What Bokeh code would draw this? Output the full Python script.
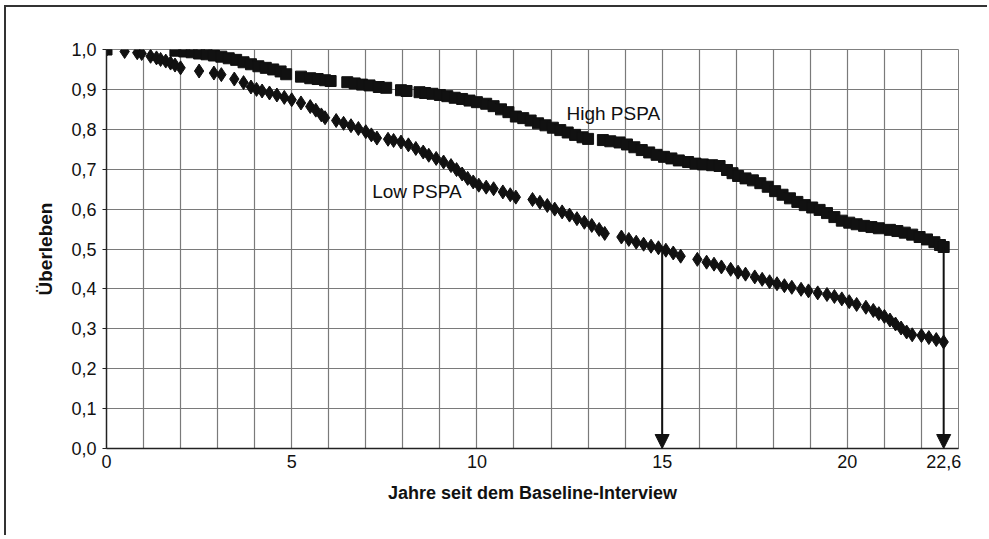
from bokeh.plotting import figure
from bokeh.models import (Range1d, FixedTicker, Label, Arrow, NormalHead, ColumnDataSource)
from bokeh.embed import file_html
from bokeh.resources import INLINE

# ---- data ----
high_years = [0, 1.86, 2.1, 2.3, 2.5, 2.7, 2.9, 3.1, 3.3, 3.5, 3.7, 3.9, 4.1, 4.3, 4.5, 4.7,
              4.85, 5.25, 5.5, 5.7, 5.9, 6.05, 6.5, 6.7, 6.9, 7.1, 7.35, 7.55, 7.95, 8.1,
              8.45, 8.6, 8.8, 9.0, 9.2, 9.4, 9.6, 9.8, 10.0, 10.25, 10.45, 10.65, 10.85,
              11.05, 11.25, 11.45, 11.65, 11.85, 12.05, 12.25, 12.45, 12.65, 12.85, 13.0,
              13.4, 13.6, 13.85, 14.05, 14.25, 14.45, 14.65, 14.85, 15.05, 15.25, 15.45,
              15.7, 15.9, 16.1, 16.35, 16.55, 16.75, 16.9, 17.05, 17.25, 17.45, 17.65,
              17.85, 18.05, 18.25, 18.45, 18.65, 18.85, 19.05, 19.25, 19.45, 19.65, 19.85,
              20.05, 20.25, 20.45, 20.65, 20.85, 21.15, 21.35, 21.55, 21.75, 21.95, 22.15,
              22.35, 22.5, 22.6]
high_surv = [1.0, 0.997, 0.995, 0.993, 0.99, 0.988, 0.985, 0.982, 0.978, 0.974, 0.968, 0.963,
             0.958, 0.954, 0.95, 0.945, 0.938, 0.932, 0.928, 0.926, 0.923, 0.921, 0.918, 0.915,
             0.912, 0.91, 0.906, 0.904, 0.898, 0.896, 0.893, 0.891, 0.889, 0.886, 0.883, 0.879,
             0.876, 0.872, 0.868, 0.864, 0.858, 0.85, 0.843, 0.832, 0.828, 0.822, 0.815, 0.81,
             0.804, 0.798, 0.792, 0.786, 0.78, 0.776, 0.773, 0.77, 0.767, 0.762, 0.755, 0.748,
             0.742, 0.736, 0.731, 0.727, 0.722, 0.718, 0.714, 0.712, 0.71, 0.708, 0.698, 0.69,
             0.683, 0.677, 0.672, 0.665, 0.656, 0.645, 0.636, 0.627, 0.618, 0.61, 0.604, 0.598,
             0.59, 0.58, 0.571, 0.566, 0.562, 0.558, 0.555, 0.552, 0.548, 0.545, 0.541, 0.536,
             0.53, 0.524, 0.517, 0.51, 0.505]

low_years = [0, 0.49, 0.83, 0.95, 1.19, 1.35, 1.46, 1.6, 1.73, 1.85, 2.0, 2.5, 2.9, 3.1, 3.45,
             3.7, 3.9, 4.05, 4.2, 4.4, 4.6, 4.8, 5.0, 5.25, 5.5, 5.65, 5.8, 5.9, 6.2, 6.4, 6.6,
             6.8, 7.0, 7.15, 7.3, 7.6, 7.75, 7.95, 8.15, 8.35, 8.55, 8.7, 8.9, 9.1, 9.3, 9.45,
             9.6, 9.75, 9.9, 10.05, 10.25, 10.45, 10.7, 10.9, 11.05, 11.5, 11.7, 11.9, 12.1,
             12.3, 12.5, 12.7, 12.9, 13.1, 13.3, 13.45, 13.9, 14.1, 14.3, 14.5, 14.7, 14.9,
             15.1, 15.3, 15.5, 15.95, 16.2, 16.4, 16.6, 16.85, 17.05, 17.25, 17.5, 17.7, 17.9,
             18.1, 18.3, 18.5, 18.75, 18.95, 19.2, 19.45, 19.65, 19.85, 20.05, 20.25, 20.5,
             20.7, 20.85, 21.0, 21.15, 21.3, 21.45, 21.6, 21.75, 22.0, 22.2, 22.4, 22.6]
low_surv = [1.0, 0.995, 0.992, 0.99, 0.983, 0.979, 0.975, 0.971, 0.966, 0.961, 0.954, 0.946,
            0.941, 0.937, 0.926, 0.917, 0.906, 0.9, 0.896, 0.891, 0.886, 0.88, 0.874, 0.866,
            0.857, 0.848, 0.836, 0.829, 0.822, 0.815, 0.809, 0.802, 0.794, 0.786, 0.778, 0.775,
            0.772, 0.768, 0.761, 0.752, 0.743, 0.735, 0.727, 0.718, 0.709, 0.699, 0.688, 0.677,
            0.668, 0.66, 0.655, 0.651, 0.643, 0.636, 0.63, 0.624, 0.617, 0.609, 0.6, 0.593,
            0.585, 0.576, 0.567, 0.559, 0.549, 0.539, 0.53, 0.524, 0.517, 0.512, 0.507, 0.503,
            0.497, 0.49, 0.482, 0.474, 0.467, 0.462, 0.455, 0.449, 0.442, 0.437, 0.43, 0.424,
            0.418, 0.413, 0.408, 0.404, 0.399, 0.395, 0.39, 0.386, 0.381, 0.375, 0.368, 0.361,
            0.354, 0.346, 0.338, 0.331, 0.322, 0.312, 0.302, 0.292, 0.285, 0.283, 0.278, 0.273,
            0.267]

x_ticks = [0, 5, 10, 15, 20, 22.6]
x_tick_labels = ["0", "5", "10", "15", "20", "22,6"]
y_ticks = [0.0, 0.1, 0.2, 0.3, 0.4, 0.5, 0.6, 0.7, 0.8, 0.9, 1.0]
y_tick_labels = ["0,0", "0,1", "0,2", "0,3", "0,4", "0,5", "0,6", "0,7", "0,8", "0,9", "1,0"]
grid_years = list(range(0, 24))

# arrows: median survival markers
arrow_years = [15, 22.6]
arrow_from = [0.5, 0.505]

x_title = "Jahre seit dem Baseline-Interview"
y_title = "Überleben"

FONT = "Liberation Sans"
INK = "#111111"

p = figure(width=983, height=530, output_backend="svg", toolbar_location=None,
           x_range=Range1d(0, 23), y_range=Range1d(0, 1.0),
           min_border_left=100, min_border_right=31, min_border_top=42, min_border_bottom=89)
p.styles = {"border-left": "2px solid #333", "border-top": "2px solid #333",
            "margin-left": "4px", "margin-top": "5px"}
p.background_fill_color = "white"
p.border_fill_color = "white"
p.outline_line_color = "#808080"
p.outline_line_width = 1

# grid
p.xgrid.ticker = FixedTicker(ticks=grid_years)
p.ygrid.ticker = FixedTicker(ticks=y_ticks)
p.xgrid.grid_line_color = "#7a7a7a"
p.ygrid.grid_line_color = "#7a7a7a"
p.xgrid.grid_line_width = 1.2
p.ygrid.grid_line_width = 1.2

# axes
p.xaxis.ticker = FixedTicker(ticks=x_ticks)
p.xaxis.major_label_overrides = {t: l for t, l in zip(x_ticks, x_tick_labels)}
p.yaxis.ticker = FixedTicker(ticks=y_ticks)
p.yaxis.major_label_overrides = {t: l for t, l in zip(y_ticks, y_tick_labels)}
for ax in (p.xaxis, p.yaxis):
    ax.axis_line_color = "#222222"
    ax.axis_line_width = 1.5
    ax.major_label_text_font = FONT
    ax.major_label_text_font_size = "18px"
    ax.major_label_text_color = INK
    ax.axis_label_text_font = FONT
    ax.axis_label_text_font_style = "bold"
    ax.axis_label_text_color = INK
    ax.minor_tick_line_color = None
p.xaxis.axis_label_text_font_size = "18px"
p.yaxis.axis_label_text_font_size = "19px"
p.xaxis.major_tick_out = 0
p.xaxis.major_tick_in = 0
p.yaxis.major_tick_out = 4
p.yaxis.major_tick_in = 0
p.yaxis.major_tick_line_color = "#222222"
p.xaxis.major_label_standoff = 6
p.yaxis.major_label_standoff = 6
p.xaxis.axis_label = x_title
p.yaxis.axis_label = y_title
p.xaxis.axis_label_standoff = 12
p.yaxis.axis_label_standoff = 12

# series
hs = ColumnDataSource(dict(x=high_years, y=high_surv))
ls = ColumnDataSource(dict(x=low_years, y=low_surv))
p.scatter("x", "y", source=ls, marker="diamond", size=14, fill_color=INK, line_color=INK)
p.scatter("x", "y", source=hs, marker="square", size=11, fill_color=INK, line_color=INK)

# arrows
for xa, ya in zip(arrow_years, arrow_from):
    p.add_layout(Arrow(x_start=xa, y_start=ya, x_end=xa, y_end=0,
                       line_color=INK, line_width=2,
                       end=NormalHead(size=14, fill_color=INK, line_color=INK)))

# labels
p.add_layout(Label(x=13.68, y=0.839, text="High PSPA", text_font=FONT, text_font_size="19px",
                   text_color=INK, text_align="center", text_baseline="middle"))
p.add_layout(Label(x=8.38, y=0.643, text="Low PSPA", text_font=FONT, text_font_size="19px",
                   text_color=INK, text_align="center", text_baseline="middle"))

open("out.html", "w").write(file_html(p, INLINE))
